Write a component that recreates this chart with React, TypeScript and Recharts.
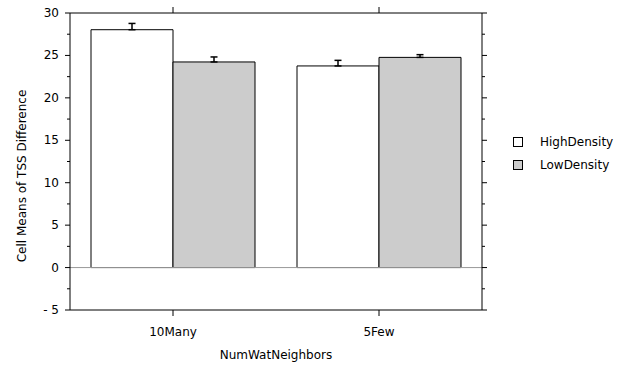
import React from 'react'
import {
  BarChart,
  Bar,
  XAxis,
  YAxis,
  ErrorBar,
  ReferenceLine,
} from 'recharts'

const categories = ['10Many', '5Few']
const highDensity = [28.03, 23.76]
const lowDensity = [24.23, 24.77]
const highErr = [0.74, 0.66]
const lowErr = [0.59, 0.32]
const yTicks = [-5, -2.5, 0, 2.5, 5, 7.5, 10, 12.5, 15, 17.5, 20, 22.5, 25, 27.5, 30]

const data = categories.map((c, i) => ({
  name: c,
  HighDensity: highDensity[i],
  LowDensity: lowDensity[i],
  highErr: [0, highErr[i]],
  lowErr: [0, lowErr[i]],
}))

const FONT = '"DejaVu Sans", sans-serif'

function LeftTick(props: any) {
  const { x, y, payload } = props
  const v = payload.value as number
  const major = v % 5 === 0
  return (
    <g>
      <line x1={x} x2={x - (major ? 5 : 3)} y1={y} y2={y} stroke="#000" />
      {major && (
        <text x={x - 11} y={y} dy={4} textAnchor="end" fontSize={12} fontFamily={FONT} fill="#000">
          {v < 0 ? `- ${Math.abs(v)}` : v}
        </text>
      )}
    </g>
  )
}

function RightTick(props: any) {
  const { x, y, payload } = props
  const major = (payload.value as number) % 5 === 0
  return (
    <g>
      <line x1={x} x2={x + (major ? 5 : 3)} y1={y} y2={y} stroke="#000" />
    </g>
  )
}

function BottomTick(props: any) {
  const { x, y, payload } = props
  return (
    <g>
      <line x1={x} x2={x} y1={y} y2={y + 6} stroke="#000" />
      <text x={x} y={y + 26} textAnchor="middle" fontSize={12} fontFamily={FONT} fill="#000">
        {payload.value}
      </text>
    </g>
  )
}

function TopTick(props: any) {
  const { x, y } = props
  return (
    <g>
      <line x1={x} x2={x} y1={y} y2={y - 6} stroke="#000" />
    </g>
  )
}

function LegendBox() {
  const items = [
    { label: 'HighDensity', fill: '#ffffff' },
    { label: 'LowDensity', fill: '#cccccc' },
  ]
  return (
    <div style={{ position: 'absolute', left: 513, top: 130, fontFamily: FONT, fontSize: 12 }}>
      {items.map((it) => (
        <div key={it.label} style={{ display: 'flex', alignItems: 'center', height: 23 }}>
          <span
            style={{
              display: 'inline-block',
              width: 8,
              height: 8,
              border: '1px solid #000',
              background: it.fill,
              marginRight: 17,
            }}
          />
          <span>{it.label}</span>
        </div>
      ))}
    </div>
  )
}

export default function App() {
  return (
    <div style={{ position: 'absolute', left: 0, top: 0, width: 620, height: 366, background: '#fff' }}>
      <BarChart
        width={620}
        height={366}
        data={data}
        margin={{ top: 7, right: 132, left: 0, bottom: 0 }}
        barCategoryGap={21}
        barGap={0}
      >
        <XAxis
          xAxisId="top"
          dataKey="name"
          orientation="top"
          height={6}
          axisLine={{ stroke: '#000' }}
          tickLine={false}
          tickSize={0}
          tickMargin={0}
          interval={0}
          tick={<TopTick />}
        />
        <XAxis
          dataKey="name"
          height={56}
          axisLine={{ stroke: '#000' }}
          tickLine={false}
          tickSize={0}
          tickMargin={0}
          interval={0}
          tick={<BottomTick />}
          label={{
            value: 'NumWatNeighbors',
            position: 'insideBottom',
            offset: 7,
            fontSize: 12,
            fontFamily: FONT,
            fill: '#000',
          }}
        />
        <YAxis
          width={70}
          domain={[-5, 30]}
          ticks={yTicks}
          interval={0}
          allowDataOverflow
          axisLine={{ stroke: '#000' }}
          tickLine={false}
          tickSize={0}
          tickMargin={0}
          tick={<LeftTick />}
          label={{
            content: () => (
              <text
                x={0}
                y={0}
                transform="translate(26,176) rotate(-90)"
                textAnchor="middle"
                fontSize={12}
                fontFamily={FONT}
                fill="#000"
              >
                Cell Means of TSS Difference
              </text>
            ),
          }}
        />
        <YAxis
          yAxisId="right"
          orientation="right"
          type="number"
          width={6}
          domain={[-5, 30]}
          ticks={yTicks}
          interval={0}
          allowDataOverflow
          axisLine={{ stroke: '#000' }}
          tickLine={false}
          tickSize={0}
          tickMargin={0}
          tick={<RightTick />}
        />
        <ReferenceLine y={0} stroke="#999999" />
        <Bar dataKey="HighDensity" fill="#ffffff" stroke="#000" strokeWidth={1} isAnimationActive={false}>
          <ErrorBar dataKey="highErr" width={3.5} stroke="#000" strokeWidth={1.5} direction="y" />
        </Bar>
        <Bar dataKey="LowDensity" fill="#cccccc" stroke="#000" strokeWidth={1} isAnimationActive={false}>
          <ErrorBar dataKey="lowErr" width={3.5} stroke="#000" strokeWidth={1.5} direction="y" />
        </Bar>
      </BarChart>
      <LegendBox />
    </div>
  )
}
